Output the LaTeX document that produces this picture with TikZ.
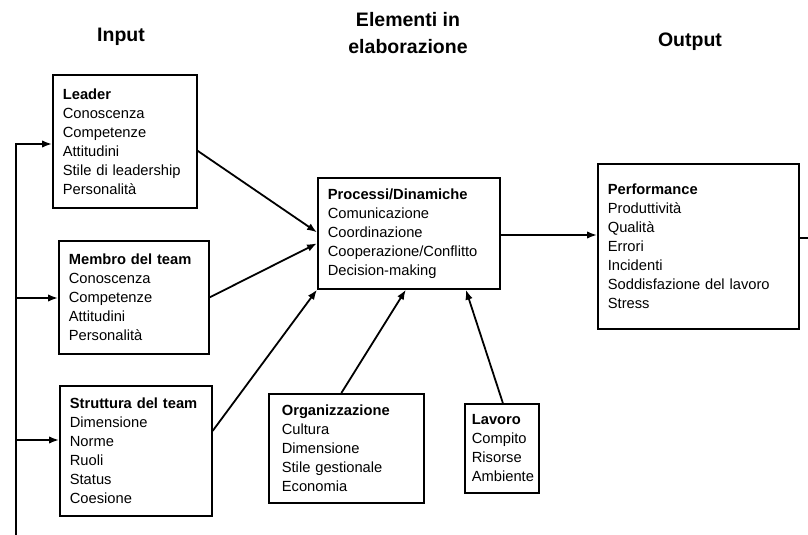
\documentclass[tikz,border=0pt]{standalone}
\usepackage{fontspec}
\setmainfont{Liberation Sans}
\usetikzlibrary{arrows.meta}
\tikzset{
  box/.style={draw, line width=1.7pt, anchor=north west, inner xsep=10pt, inner ysep=0pt,
    align=left, font=\fontsize{14.7}{19}\selectfont},
  conn/.style={line width=1.8pt, -{Latex[length=10pt,width=7.5pt]}},
  plain/.style={line width=1.8pt},
  hdr/.style={font=\fontsize{19.5}{24}\selectfont\bfseries, anchor=base}
}
\begin{document}
\begin{tikzpicture}[x=1pt,y=-1pt]
\useasboundingbox (0,0) rectangle (808,535);
% headers
\node[hdr] (hin) at (121,42) {Input};
\node[hdr] (hel1) at (408,27) {Elementi in};
\node[hdr] (hel2) at (408,53) {elaborazione};
\node[hdr] (hout) at (690,47) {Output};
% boxes
\node[box, text width=124pt, minimum height=133pt] (leader) at (52,74)
  {\textbf{Leader}\\Conoscenza\\Competenze\\Attitudini\\Stile di leadership\\Personalità};
\node[box, text width=130pt, minimum height=113pt] (membro) at (58,240)
  {\textbf{Membro del team}\\Conoscenza\\Competenze\\Attitudini\\Personalità};
\node[box, text width=132pt, minimum height=130pt] (strutt) at (59,385)
  {\textbf{Struttura del team}\\Dimensione\\Norme\\Ruoli\\Status\\Coesione};
\node[box, text width=162pt, minimum height=111pt] (proc) at (317,177)
  {\textbf{Processi/Dinamiche}\\Comunicazione\\Coordinazione\\Cooperazione/Conflitto\\Decision-making};
\node[box, text width=181pt, minimum height=165pt] (perf) at (597,163)
  {\textbf{Performance}\\Produttività\\Qualità\\Errori\\Incidenti\\Soddisfazione del lavoro\\Stress};
\node[box, inner xsep=13pt, text width=129pt, minimum height=109pt] (org) at (268,393)
  {\textbf{Organizzazione}\\Cultura\\Dimensione\\Stile gestionale\\Economia};
\node[box, inner xsep=7pt, text width=60pt, minimum height=89pt] (lav) at (464,403)
  {\textbf{Lavoro}\\Compito\\Risorse\\Ambiente};
% feedback line
\coordinate (fbtop) at (16,144);
\coordinate (fbbot) at (16,535);
\coordinate (fbm) at (16,298);
\coordinate (fbs) at (16,440);
\draw[conn] (fbbot) -- (fbtop) -- (fbtop -| leader.west);
\draw[conn] (fbm) -- (fbm -| membro.west);
\draw[conn] (fbs) -- (fbs -| strutt.west);
% inputs to processes
\draw[conn] ([yshift=-9.5pt]leader.east) -- ([yshift=1pt]proc.west);
\draw[conn] (membro.east) -- ([yshift=-10pt]proc.west);
\draw[conn] ([yshift=20pt]strutt.east) -- (proc.south west);
\draw[conn] ([xshift=-5pt]org.north) -- ([xshift=-3pt]proc.south);
\draw[conn] ([xshift=1pt]lav.north) -- ([xshift=57pt]proc.south);
% processes to performance
\coordinate (pp) at (499,235);
\draw[conn] (proc.east |- pp) -- (perf.west |- pp);
% output continuing
\coordinate (out) at (808,238);
\draw[plain] (perf.east |- out) -- (out);
\end{tikzpicture}
\end{document}
